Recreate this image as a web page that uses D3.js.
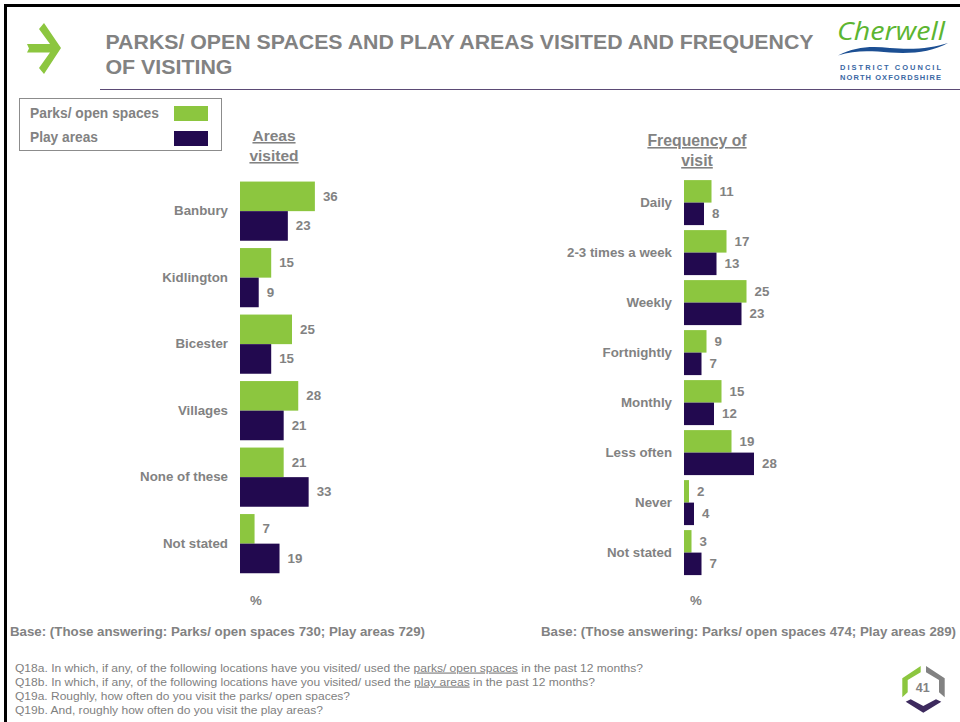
<!DOCTYPE html>
<html><head><meta charset="utf-8">
<script src="https://cdn.jsdelivr.net/npm/d3@7"></script>
<style>html,body{margin:0;padding:0;background:#fff}svg{display:block}text{font-family:"Liberation Sans",Arial,sans-serif}</style>
</head><body><div id="c"></div>
<script>
const seriesNames=["Parks/ open spaces","Play areas"];
const areaCats=["Banbury","Kidlington","Bicester","Villages","None of these","Not stated"];
const areaParks=[36,15,25,28,21,7];
const areaPlay=[23,9,15,21,33,19];
const freqCats=["Daily","2-3 times a week","Weekly","Fortnightly","Monthly","Less often","Never","Not stated"];
const freqParks=[11,17,25,9,15,19,2,3];
const freqPlay=[8,13,23,7,12,28,4,7];
const colors=["#8cc63f","#22094f"];
const grey="#828282";
const W=960,H=722;
const svg=d3.select("#c").append("svg").attr("width",W).attr("height",H);
function t(x,y,s,o={}){return svg.append("text").attr("x",x).attr("y",y).text(s)
 .attr("font-size",o.size||13).attr("font-weight",o.w||"bold").attr("fill",o.fill||grey)
 .attr("text-anchor",o.a||"start").attr("text-decoration",o.u?"underline":null)
 .attr("textLength",o.len||null).attr("lengthAdjust",o.len?(o.adj||"spacingAndGlyphs"):null);}
// frame
svg.append("rect").attr("x",4).attr("y",4).attr("width",956).attr("height",3).attr("fill","#000");
svg.append("rect").attr("x",4).attr("y",4).attr("width",3).attr("height",718).attr("fill","#000");
// arrow icon
svg.append("path").attr("fill",colors[0]).attr("d","M44 23 L61 48 L44 74 L39 68 L50 52.5 L27 52.5 L29 48.5 L27 44 L50 44 L39 29 Z");
// title
t(105.5,49,"PARKS/ OPEN SPACES AND PLAY AREAS VISITED AND FREQUENCY",{size:20,len:708});
t(105.5,74,"OF VISITING",{size:20,len:127});
svg.append("line").attr("x1",100).attr("x2",960).attr("y1",89.5).attr("y2",89.5).attr("stroke","#5b4a75").attr("stroke-width",1);
// logo
t(837,40,"Cherwell",{size:25,w:"normal",fill:"#5cb531",len:108}).attr("font-style","italic").style("font-family","'Open Sans'");
svg.append("path").attr("fill","#1c4f93").attr("d","M838 55.5 C855 47 870 46 890 48 C915 50 932 48 948 43 C932 52 912 54 890 52.5 C870 51 855 50 838 55.5 Z");
t(840,70,"DISTRICT COUNCIL",{size:7.5,fill:"#3b68a3",len:101,adj:"spacing"});
t(840,79.5,"NORTH OXFORDSHIRE",{size:7.5,fill:"#3b68a3",len:101,adj:"spacing"});
// legend
svg.append("rect").attr("x",19.5).attr("y",98.5).attr("width",202).attr("height",52).attr("fill","#fff").attr("stroke","#8c8c8c").attr("stroke-width",1);
seriesNames.forEach((n,i)=>{
 t(30,118+i*24,n,{size:14,len:i?68:129});
 svg.append("rect").attr("x",174).attr("y",106+i*25).attr("width",34).attr("height",15).attr("fill",colors[i]);
});
function chart(cats,a,b,x0,ux,top,step,barGap,catDy){
 const y=d3.scaleBand().domain(cats).range([top,top+step*cats.length]).paddingInner(barGap).paddingOuter(barGap/2);
 const x=d3.scaleLinear().domain([0,1]).range([x0,x0+ux]);
 const inner=d3.scaleBand().domain([0,1]).range([0,y.bandwidth()]);
 const g=svg.append("g");
 const rows=g.selectAll("g").data(cats).join("g").attr("transform",c=>`translate(0,${y(c)})`);
 rows.append("text").attr("x",x0-12).attr("y",y.bandwidth()/2+catDy).attr("text-anchor","end").attr("font-size",13.3).attr("font-weight","bold").attr("fill",grey).text(c=>c);
 [a,b].forEach((vals,k)=>{
  rows.append("rect").attr("x",x(0)).attr("y",inner(k)).attr("height",inner.bandwidth())
   .attr("width",(c,i)=>x(vals[i])-x(0)).attr("fill",colors[k]);
  rows.append("text").attr("x",(c,i)=>x(vals[i])+8).attr("y",inner(k)+inner.bandwidth()/2+4.5)
   .attr("font-size",13.3).attr("font-weight","bold").attr("fill",grey).text((c,i)=>vals[i]);
 });
}
chart(areaCats,areaParks,areaPlay,240,2.08,177.9,66.5,0.11,4);
chart(freqCats,freqParks,freqPlay,684,2.5,177.6,50,0.1,4.5);
// headings
t(274,141,"Areas",{size:15.5,a:"middle",u:1});
t(274,161,"visited",{size:15.5,a:"middle",u:1});
t(697,146,"Frequency of",{size:15.8,a:"middle",u:1});
t(697,166,"visit",{size:15.8,a:"middle",u:1});
t(256,605,"%",{size:13.3,a:"middle"});
t(696,605,"%",{size:13.3,a:"middle"});
// base
t(10,636,"Base: (Those answering: Parks/ open spaces 730; Play areas 729)",{size:13,len:415});
t(541,636,"Base: (Those answering: Parks/ open spaces 474; Play areas 289)",{size:13,len:415});
// questions
const q=svg.append("g").attr("font-size",11.5).attr("fill","#7f7f7f");
function ql(y,parts,len){const e=q.append("text").attr("x",15).attr("y",y).attr("textLength",len).attr("lengthAdjust","spacingAndGlyphs");
 parts.forEach(p=>e.append("tspan").text(p[0]).attr("text-decoration",p[1]?"underline":null));}
ql(671.5,[["Q18a. In which, if any, of the following locations have you visited/ used the "],["parks/ open spaces",1],[" in the past 12 months?"]],628);
ql(685.5,[["Q18b. In which, if any, of the following locations have you visited/ used the "],["play areas",1],[" in the past 12 months?"]],580);
ql(700,[["Q19a. Roughly, how often do you visit the parks/ open spaces?"]],335);
ql(714,[["Q19b. And, roughly how often do you visit the play areas?"]],308);
// page badge
svg.append("path").attr("fill",colors[0]).attr("d","M920.7 666 L920.7 672.3 L907.7 680 L907.7 692.3 L902.3 697.3 L902.3 678.3 Z");
svg.append("path").attr("fill",grey).attr("d","M926 666 L926 672.3 L939 680 L939 692.3 L944.7 697.3 L944.7 678.3 Z");
svg.append("path").attr("fill","#3d2a5e").attr("d","M905.7 701.7 L910.7 699.3 L923.3 706 L936 699.3 L941.3 701.7 L923.3 712.7 Z");
t(922.7,692,"41",{size:12.5,a:"middle"});
</script></body></html>
